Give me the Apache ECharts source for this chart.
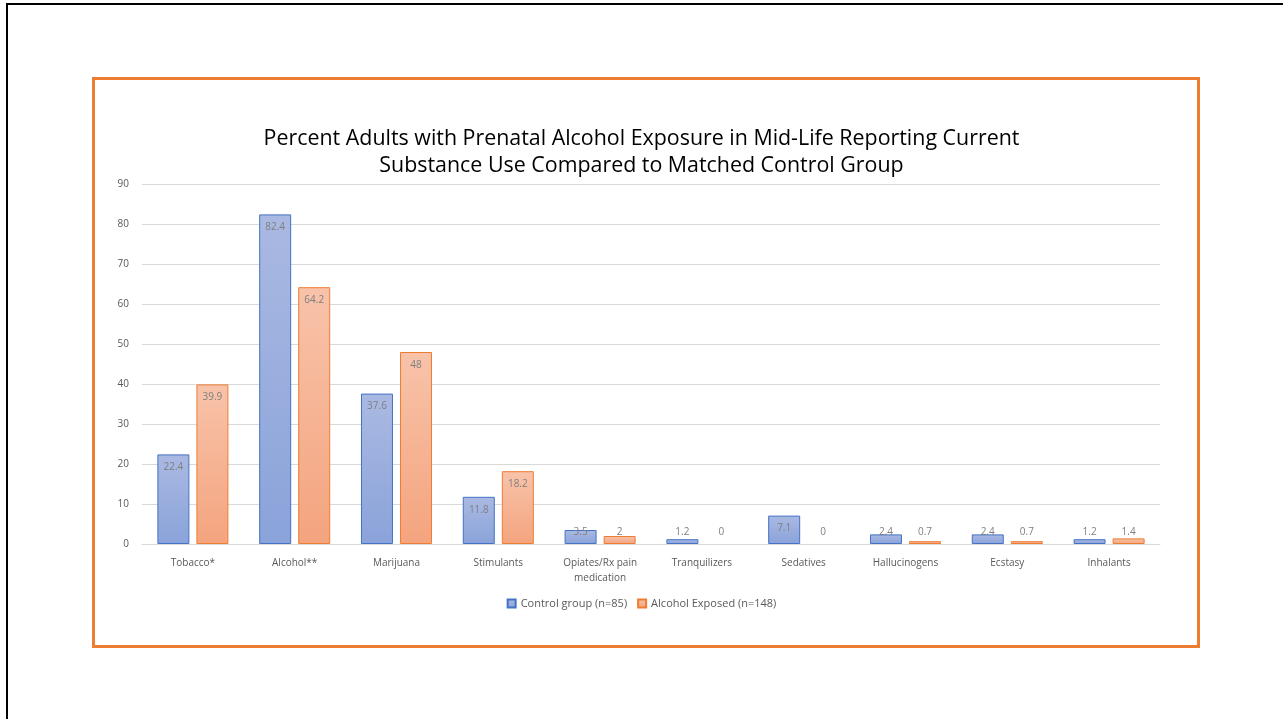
<!DOCTYPE html>
<html>
<head>
<meta charset="utf-8">
<script src="https://cdn.jsdelivr.net/npm/echarts@6/dist/echarts.min.js"></script>
<style>
    html, body { margin:0; padding:0; background:#fff; }
    #slideTop { position:absolute; left:6px; top:3px; width:1277px; height:2px; background:#000; }
    #slideLeft { position:absolute; left:6px; top:3px; width:2px; height:716px; background:#000; }
    #frame { position:absolute; left:92px; top:77px; width:1102px; height:565px; border:3px solid #ed7d31; }
    #main { position:absolute; left:0; top:0; width:1283px; height:719px; }
</style>
</head>
<body>
<div id="slideTop"></div>
<div id="slideLeft"></div>
<div id="frame"></div>
<div id="main"></div>
<script>
/*类别与数据*/
var categories = ['Tobacco*', 'Alcohol**', 'Marijuana', 'Stimulants', 'Opiates/Rx pain\nmedication',
    'Tranquilizers', 'Sedatives', 'Hallucinogens', 'Ecstasy', 'Inhalants'];
var controlData = [22.4, 82.4, 37.6, 11.8, 3.5, 1.2, 7.1, 2.4, 2.4, 1.2];
var exposedData = [39.9, 64.2, 48, 18.2, 2, 0, 0, 0.7, 0.7, 1.4];
var legendNames = ['Control group (n=85)', 'Alcohol Exposed (n=148)'];

/*小柱子的标签放在底部, 0 不画边框*/
function withLabels(arr) {
    return arr.map(function (v) {
        var item = { value: v };
        if (v < 5) {
            item.label = { position: 'insideBottom', distance: 7 };
        }
        if (v === 0) {
            item.itemStyle = { borderWidth: 0 };
        }
        return item;
    });
}

var labelStyle = {
    show: true,
    position: 'insideTop',
    distance: 8,
    color: '#7f7f7f',
    fontSize: 10,
    fontFamily: 'Open Sans'
};

var chart = echarts.init(document.getElementById('main'));
chart.setOption({
    animation: false,
    textStyle: { fontFamily: 'Open Sans' },
    title: {
        text: 'Percent Adults with Prenatal Alcohol Exposure in Mid-Life Reporting Current\nSubstance Use Compared to Matched Control Group',
        left: 'center',
        top: 120,
        textStyle: {
            fontSize: 21.4,
            fontWeight: 'normal',
            color: '#000',
            lineHeight: 27,
            fontFamily: 'Open Sans'
        }
    },
    legend: {
        data: legendNames,
        top: 593,
        left: 'center',
        icon: 'rect',
        itemWidth: 8,
        itemHeight: 8,
        itemGap: 10,
        textStyle: { fontSize: 11, color: '#595959' }
    },
    grid: {
        left: 142,
        right: 123,
        top: 184,
        bottom: 175
    },
    xAxis: {
        type: 'category',
        data: categories,
        axisLine: { lineStyle: { color: '#d9d9d9', width: 1 } },
        axisTick: { show: false },
        axisLabel: { color: '#595959', fontSize: 10, margin: 12, lineHeight: 15, interval: 0 }
    },
    yAxis: {
        type: 'value',
        min: 0,
        max: 90,
        interval: 10,
        axisLine: { show: false },
        axisTick: { show: false },
        axisLabel: { color: '#595959', fontSize: 10, margin: 13 },
        splitLine: { lineStyle: { color: '#d9d9d9', width: 1 } }
    },
    series: [
        {
            name: legendNames[0],
            type: 'bar',
            barWidth: 32,
            barGap: '22%',
            data: withLabels(controlData),
            label: labelStyle,
            itemStyle: {
                color: {
                    type: 'linear', x: 0, y: 0, x2: 0, y2: 1,
                    colorStops: [{ offset: 0, color: '#aab9e2' }, { offset: 1, color: '#8aa3da' }]
                },
                borderColor: '#4472c4',
                borderWidth: 1
            }
        },
        {
            name: legendNames[1],
            type: 'bar',
            barWidth: 32,
            barGap: '22%',
            data: withLabels(exposedData),
            label: labelStyle,
            itemStyle: {
                color: {
                    type: 'linear', x: 0, y: 0, x2: 0, y2: 1,
                    colorStops: [{ offset: 0, color: '#f8c3aa' }, { offset: 1, color: '#f4a47e' }]
                },
                borderColor: '#ed7d31',
                borderWidth: 1
            }
        }
    ]
});
</script>
</body>
</html>
